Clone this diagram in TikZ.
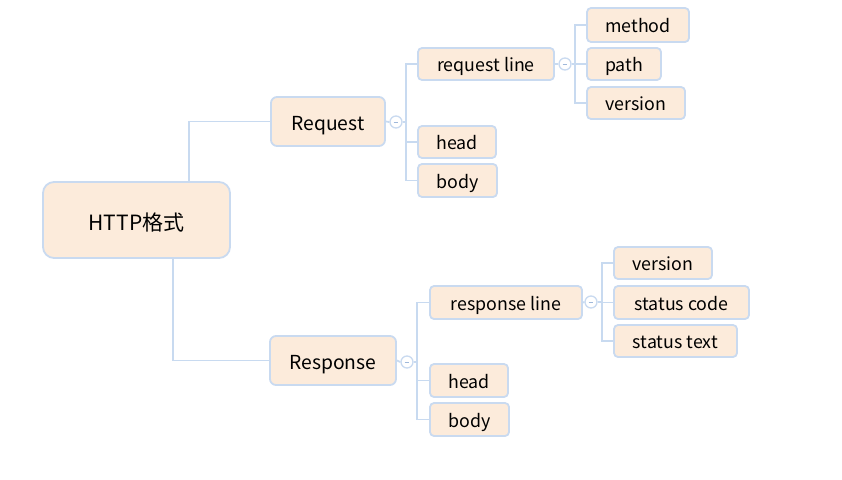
\documentclass[tikz,border=0pt]{standalone}
\usepackage{fontspec}
\setmainfont{Noto Sans CJK SC}
\definecolor{boxfill}{HTML}{FCEBDB}
\definecolor{boxline}{HTML}{C9DAF0}
\definecolor{connline}{HTML}{C8DAF0}
\definecolor{minusc}{HTML}{9FB8DA}
\begin{document}
\begin{tikzpicture}[x=1pt,y=-1pt,
  box/.style={draw=boxline,fill=boxfill,line width=1.8pt,rounded corners=4pt,inner sep=0pt,anchor=center,
    text height=15pt,text depth=0pt,font=\fontsize{17.8}{19}\selectfont},
  mid/.style={box,rounded corners=6pt,text height=18pt,font=\fontsize{19.3}{21}\selectfont},
  rootbox/.style={box,rounded corners=11pt,text height=20pt,font=\fontsize{21}{23}\selectfont},
  conn/.style={draw=connline,line width=1.8pt},
  fold/.style={circle,draw=boxline,fill=white,line width=1.3pt,minimum size=12pt,inner sep=0pt,
    path picture={\draw[minusc,line width=1pt] ([xshift=-2.4pt]path picture bounding box.center) -- ([xshift=2.4pt]path picture bounding box.center);}}
]
\useasboundingbox (0,0) rectangle (842,479);
% nodes
\node[rootbox,minimum width=187pt,minimum height=76pt] (root) at (136.5,220) {HTTP格式};
\node[mid,minimum width=114pt,minimum height=49pt] (req) at (328,121.5) {Request};
\node[mid,minimum width=126pt,minimum height=49pt] (resp) at (333,360.5) {Response};
% request subtree
\node[fold] (f1) at (396,122) {};
\node[box,minimum width=136pt,minimum height=32pt] (rl) at (486,64) {request line};
\node[box,minimum width=78pt,minimum height=32pt] (rqh) at (457,142) {head};
\node[box,minimum width=79pt,minimum height=33pt] (rqb) at (457.5,180.5) {body};
\node[fold] (f2) at (565,64) {};
\node[box,minimum width=102pt,minimum height=34pt] (me) at (638,25) {method};
\node[box,minimum width=74pt,minimum height=32pt] (pa) at (624,64) {path};
\node[box,minimum width=98pt,minimum height=32pt] (ve) at (636,103) {version};
% response subtree
\node[fold] (f3) at (407,362) {};
\node[box,minimum width=152pt,minimum height=33pt] (sl) at (506,302.5) {response line};
\node[box,minimum width=78pt,minimum height=33pt] (rsh) at (469,380.5) {head};
\node[box,minimum width=79pt,minimum height=33pt] (rsb) at (469.5,419.5) {body};
\node[fold] (f4) at (591,302) {};
\node[box,minimum width=98pt,minimum height=32pt] (sv) at (663,263) {version};
\node[box,minimum width=135pt,minimum height=33pt] (sc) at (681.5,302.5) {status code};
\node[box,minimum width=123pt,minimum height=32pt] (st) at (675.5,341) {status text};
% connectors
\draw[conn] ([xshift=52.5pt]root.north) |- (req.west);
\draw[conn] ([xshift=36.5pt]root.south) |- (resp.west);
\draw[conn] (req.east) -- (f1.west);
\draw[conn] (f1.east) -- ++(3,0) |- (rl.west);
\draw[conn] (f1.east) -- ++(3,0) |- (rqh.west);
\draw[conn] (f1.east) -- ++(3,0) |- (rqb.west);
\draw[conn] (rl.east) -- (f2.west);
\draw[conn] (f2.east) -- ++(3,0) |- (me.west);
\draw[conn] (f2.east) -- ++(3,0) |- (pa.west);
\draw[conn] (f2.east) -- ++(3,0) |- (ve.west);
\draw[conn] (resp.east) -- (f3.west);
\draw[conn] (f3.east) -- ++(3,0) |- (sl.west);
\draw[conn] (f3.east) -- ++(3,0) |- (rsh.west);
\draw[conn] (f3.east) -- ++(3,0) |- (rsb.west);
\draw[conn] (sl.east) -- (f4.west);
\draw[conn] (f4.east) -- ++(4,0) |- (sv.west);
\draw[conn] (f4.east) -- ++(4,0) |- (sc.west);
\draw[conn] (f4.east) -- ++(4,0) |- (st.west);
\end{tikzpicture}
\end{document}
